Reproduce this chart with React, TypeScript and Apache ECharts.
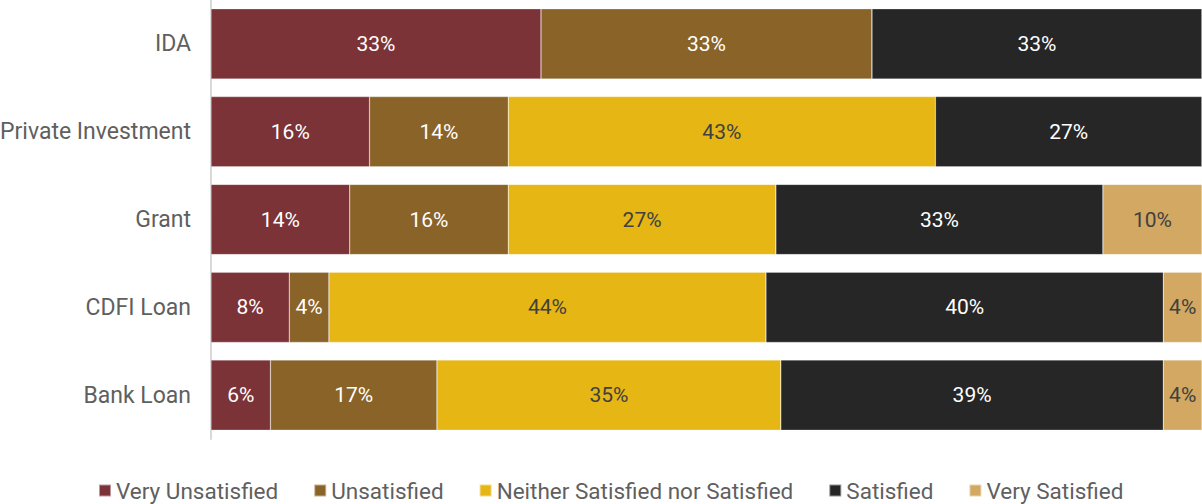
import React, { useEffect, useRef } from "react";
import * as echarts from "echarts";

const categories = ["IDA", "Private Investment", "Grant", "CDFI Loan", "Bank Loan"];
const seriesNames = [
  "Very Unsatisfied",
  "Unsatisfied",
  "Neither Satisfied nor Satisfied",
  "Satisfied",
  "Very Satisfied",
];
const veryUnsatisfied = [33.3, 16.0, 14.0, 7.9, 6.0];
const unsatisfied = [33.4, 14.0, 16.0, 4.0, 16.8];
const neither = [0, 43.1, 27.0, 44.1, 34.7];
const satisfied = [33.3, 26.9, 33.0, 40.1, 38.6];
const verySatisfied = [0, 0, 10.0, 3.9, 3.9];

const colors = ["#7B3338", "#8A6328", "#E6B614", "#262626", "#D2A862"];
const labelColors = ["#FFFFFF", "#FFFFFF", "#404040", "#FFFFFF", "#404040"];
const FONT = "Roboto, 'Noto Sans', sans-serif";

export default function App() {
  const ref = useRef<HTMLDivElement>(null);
  useEffect(() => {
    if (!ref.current) return;
    const chart = echarts.init(ref.current, undefined, { renderer: "svg" });
    const values = [veryUnsatisfied, unsatisfied, neither, satisfied, verySatisfied];
    chart.setOption({
      animation: false,
      textStyle: { fontFamily: FONT },
      legend: {
        data: seriesNames,
        top: 474,
        left: 93,
        icon: "rect",
        itemWidth: 12,
        itemHeight: 12,
        itemGap: 35,
        textStyle: { fontSize: 22.5, color: "#5F5F5F", fontFamily: FONT },
      },
      grid: {
        left: 211,
        right: 0,
        top: 0,
        height: 439,
        containLabel: false,
        outerBoundsMode: "none",
      },
      xAxis: {
        type: "value",
        min: 0,
        max: 100,
        show: false,
      },
      yAxis: {
        type: "category",
        data: categories,
        inverse: true,
        axisLine: { show: true, lineStyle: { color: "#D9D9D9", width: 2 } },
        axisTick: { show: false },
        axisLabel: { fontSize: 23, color: "#5F5F5F", margin: 20, fontFamily: FONT },
      },
      series: seriesNames.map((name, i) => ({
        name,
        type: "bar",
        stack: "total",
        barWidth: "80%",
        data: values[i],
        itemStyle: { color: colors[i], borderColor: "rgba(255,255,255,0.5)", borderWidth: 0.5 },
        label: {
          show: true,
          position: "inside",
          color: labelColors[i],
          fontSize: 21,
          fontFamily: FONT,
          formatter: (p: any) => (p.value > 0 ? Math.round(p.value) + "%" : ""),
        },
      })),
    });
    return () => chart.dispose();
  }, []);
  return <div ref={ref} style={{ width: 1202, height: 504, position: "absolute", left: 0, top: 0 }} />;
}
